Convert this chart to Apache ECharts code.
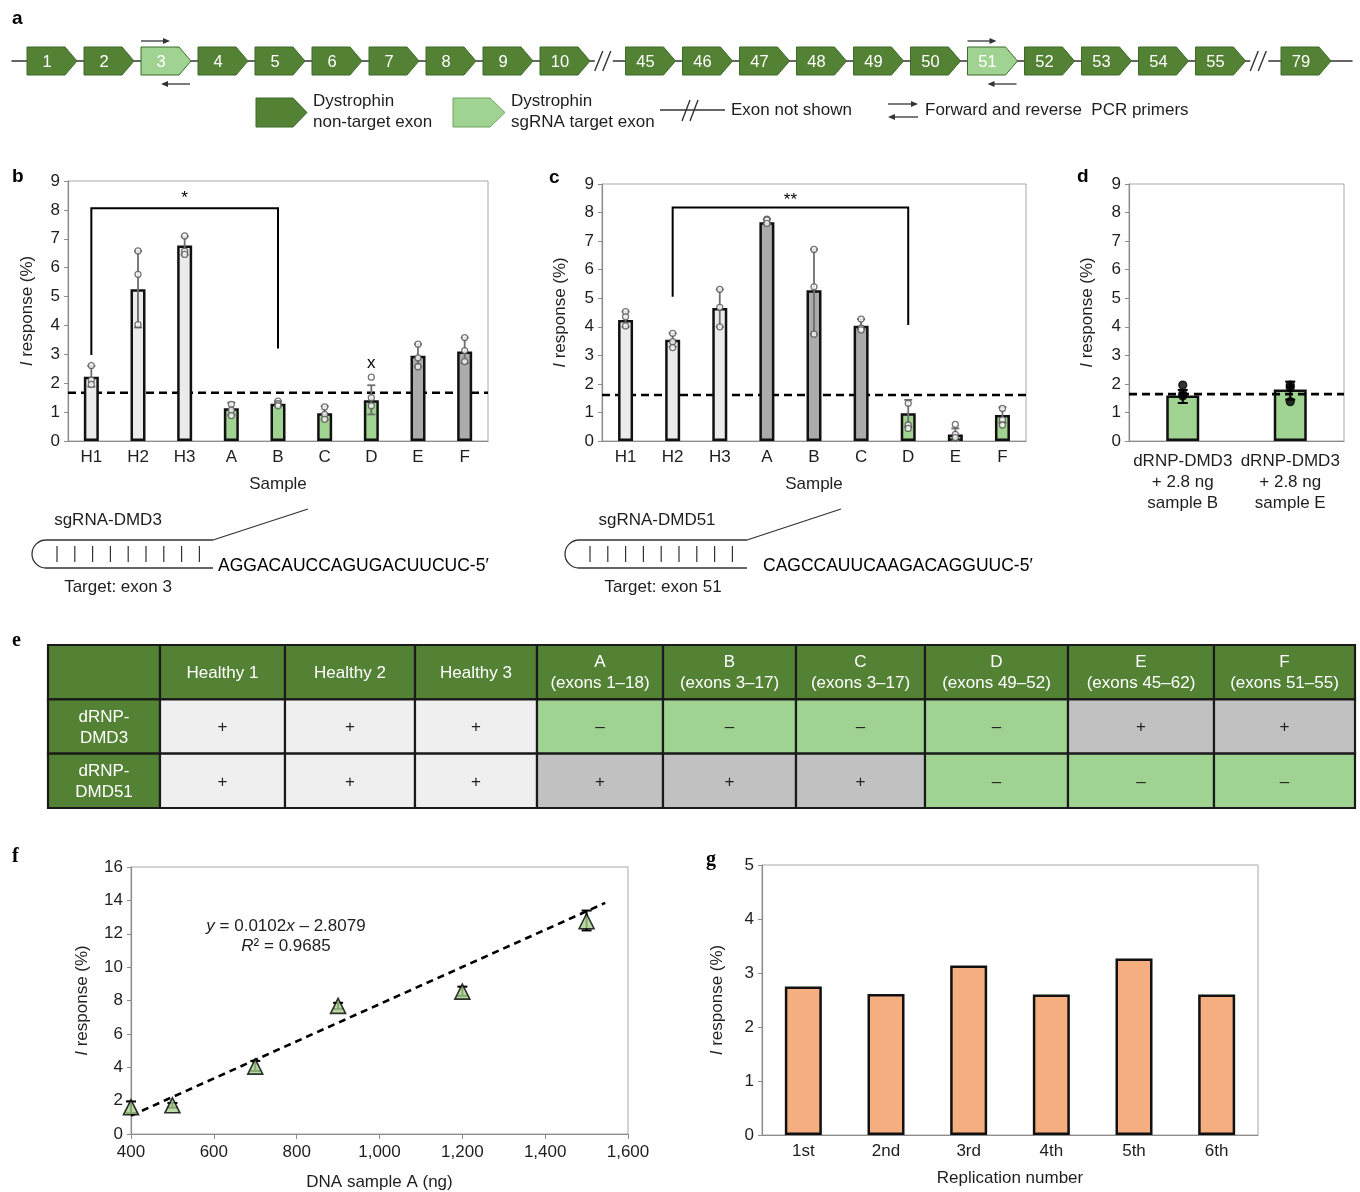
<!DOCTYPE html>
<html><head><meta charset="utf-8">
<script src="https://cdn.jsdelivr.net/npm/echarts@6/dist/echarts.min.js"></script>
<style>html,body{margin:0;padding:0;background:#fff}#chart{width:1360px;height:1192px}</style>
</head><body><div id="chart"></div>
<script>
// ================= DATA =================
// panel a
const exonLabels = ['1','2','3','4','5','6','7','8','9','10','45','46','47','48','49','50','51','52','53','54','55','79'];
const targetExons = ['3','51'];
const breakAfter = ['10','55'];

// panels b, c
const sampleCats = ['H1','H2','H3','A','B','C','D','E','F'];
const bGroups = ['healthy','healthy','healthy','neg','neg','neg','neg','pos','pos'];
const bMean = [2.22, 5.25, 6.77, 1.13, 1.29, 0.96, 1.41, 2.95, 3.10];
const bErrLow = [1.88, 3.93, 6.45, 0.90, 1.22, 0.74, 0.92, 2.57, 2.70];
const bErrHigh = [2.60, 6.57, 7.08, 1.33, 1.37, 1.20, 1.93, 3.35, 3.58];
const bPoints = [[2.61,2.11,1.96],[6.58,5.77,4.03],[7.10,6.57,6.46],[1.27,1.07,0.88],[1.38,1.29,1.22],[1.18,0.92,0.75],[2.21,1.50,1.22],[3.35,2.88,2.57],[3.58,3.13,2.75]];
const bThreshold = 1.67;
const bBracket = {from:'H1', fromLeg:2.98, to:'B', toLeg:3.20, top:8.06, starY:8.5, text:'*'};
const bOutlier = {cat:'D', y:2.68, text:'x'};

const cGroups = ['healthy','healthy','healthy','pos','pos','pos','neg','neg','neg'];
const cMean = [4.24, 3.55, 4.66, 7.66, 5.28, 4.04, 0.97, 0.23, 0.91];
const cErrLow = [4.00, 3.30, 4.00, 7.60, 3.74, 3.92, 0.50, 0.02, 0.64];
const cErrHigh = [4.53, 3.77, 5.31, 7.77, 6.71, 4.27, 1.44, 0.44, 1.18];
const cPoints = [[4.53,4.35,4.03],[3.77,3.48,3.27],[5.31,4.68,4.00],[7.77,7.74,7.62],[6.71,5.40,3.74],[4.27,3.95,3.89],[1.32,0.56,0.44],[0.58,0.23,0.12],[1.14,0.74,0.56]];
const cThreshold = 1.61;
const cBracket = {from:'H2', fromLeg:5.05, to:'D', toLeg:4.06, top:8.18, starY:8.55, text:'**'};

// panel d
const dCats = ['dRNP-DMD3\n+ 2.8 ng\nsample B', 'dRNP-DMD3\n+ 2.8 ng\nsample E'];
const dMean = [1.59, 1.80];
const dErrLow = [1.33, 1.45];
const dErrHigh = [1.79, 2.08];
const dPoints = [[1.96,1.65,1.58],[1.96,1.87,1.38]];
const dThreshold = 1.64;

// panel e
const tableHeaders = ['', 'Healthy 1', 'Healthy 2', 'Healthy 3', 'A\n(exons 1–18)', 'B\n(exons 3–17)', 'C\n(exons 3–17)', 'D\n(exons 49–52)', 'E\n(exons 45–62)', 'F\n(exons 51–55)'];
const rowHeaders = ['dRNP-\nDMD3', 'dRNP-\nDMD51'];
const dmd3Result = ['+','+','+','–','–','–','–','+','+'];
const dmd51Result = ['+','+','+','+','+','+','–','–','–'];

// panel f
const fX = [400, 500, 700, 900, 1200, 1500];
const fY = [1.60, 1.72, 4.04, 7.68, 8.53, 12.75];
const fErrLow = [1.25, 1.58, 3.78, 7.50, 8.28, 12.20];
const fErrHigh = [1.95, 1.86, 4.38, 7.86, 8.83, 13.39];
const trendX = [400, 1545];
const trendY = [1.10, 13.85];

// panel g
const replCats = ['1st','2nd','3rd','4th','5th','6th'];
const gVals = [2.75, 2.61, 3.14, 2.60, 3.27, 2.60];

// ================= STYLE / LAYOUT =================
const FONT = "'Liberation Sans', Arial, Helvetica, sans-serif";
const DARK = '#548235', LIGHT = '#a0d392';
const GROUP_COL = {healthy:'#ebebeb', neg:'#a0d392', pos:'#ababab'};
const TXT = '#1e1e1e';
const tableColWidths = [112,125,130,122,126,133,129,143,146,141];

// ---------- exon track items ----------
const exonItems = [];
(function(){
  let breaks = 0;
  exonLabels.forEach((l, i) => {
    const slot = i + 0.5 * breaks;
    exonItems.push({kind: targetExons.includes(l) ? 'target' : 'exon', label: l, slot});
    if (breakAfter.includes(l)) { exonItems.push({kind:'break', slot: slot + 0.75}); breaks++; }
  });
})();

function arrowEl(x1, x2, y, color) {
  const dir = x2 > x1 ? 1 : -1;
  return [
    {type:'line', shape:{x1, y1:y, x2:x2 - dir*5, y2:y}, style:{stroke:color, lineWidth:1.3}},
    {type:'polygon', shape:{points:[[x2,y],[x2-dir*7,y-3],[x2-dir*7,y+3]]}, style:{fill:color}}
  ];
}

const exonSeries = {
  type:'custom', xAxisIndex:0, yAxisIndex:0, z:5,
  data: exonItems.map(it => [it.slot, 0]),
  renderItem: (params, api) => {
    const it = exonItems[params.dataIndex];
    const p = api.coord([api.value(0), 0]);
    const cx = p[0], cy = p[1];
    if (it.kind === 'break') {
      return {type:'group', children:[
        {type:'rect', shape:{x:cx-9, y:cy-1, width:18, height:2}, style:{fill:'#fff'}},
        {type:'line', shape:{x1:cx-9, y1:cy+10, x2:cx-1, y2:cy-10}, style:{stroke:'#333', lineWidth:1.4}},
        {type:'line', shape:{x1:cx-1, y1:cy+10, x2:cx+7, y2:cy-10}, style:{stroke:'#333', lineWidth:1.4}}
      ]};
    }
    const fill = it.kind === 'target' ? LIGHT : DARK;
    const ch = [
      {type:'polygon', shape:{points:[[cx-21,cy-14],[cx+17,cy-14],[cx+29,cy],[cx+17,cy+14],[cx-21,cy+14]]},
       style:{fill, stroke:'#3c6a28', lineWidth:1}},
      {type:'text', style:{text:it.label, x:cx-1, y:cy+1, align:'center', verticalAlign:'middle',
        fill:'#fff', fontSize:16.5, fontFamily:FONT}}
    ];
    if (it.kind === 'target') {
      ch.push(...arrowEl(cx-21, cx+8, cy-20, '#333'));
      ch.push(...arrowEl(cx+28, cx-1, cy+23, '#333'));
    }
    return {type:'group', children:ch};
  }
};

// ---------- generic helpers ----------
function errSeries(ai, xs, lo, hi, color, lw, cap, z) {
  return {
    type:'custom', xAxisIndex:ai, yAxisIndex:ai, z,
    data: xs.map((x, i) => [x, lo[i], hi[i]]),
    encode:{x:0, y:[1,2]},
    renderItem: (params, api) => {
      const x = api.value(0);
      const a = api.coord([x, api.value(1)]);
      const b = api.coord([x, api.value(2)]);
      const st = {stroke:color, lineWidth:lw};
      return {type:'group', children:[
        {type:'line', shape:{x1:a[0], y1:a[1], x2:b[0], y2:b[1]}, style:st},
        {type:'line', shape:{x1:b[0]-cap, y1:b[1], x2:b[0]+cap, y2:b[1]}, style:st},
        {type:'line', shape:{x1:a[0]-cap, y1:a[1], x2:a[0]+cap, y2:a[1]}, style:st}
      ]};
    }
  };
}
function thresholdSeries(ai, thr, z) {
  return {
    type:'custom', xAxisIndex:ai, yAxisIndex:ai, z,
    data:[[0, thr]],
    renderItem: (params, api) => {
      const y = api.coord([0, api.value(1)])[1];
      const cs = params.coordSys;
      return {type:'line', shape:{x1:cs.x, y1:y, x2:cs.x+cs.width, y2:y},
        style:{stroke:'#000', lineWidth:2.6, lineDash:[8,5]}};
    }
  };
}
function bracketSeries(ai, cats, br) {
  const i1 = cats.indexOf(br.from), i2 = cats.indexOf(br.to);
  return {
    type:'custom', xAxisIndex:ai, yAxisIndex:ai, z:6,
    data:[[i1, br.fromLeg, i2, br.toLeg, br.top, br.starY]],
    renderItem: (params, api) => {
      const a = api.coord([api.value(0), api.value(1)]);
      const b = api.coord([api.value(0), api.value(4)]);
      const c = api.coord([api.value(2), api.value(4)]);
      const d = api.coord([api.value(2), api.value(3)]);
      const s = api.coord([api.value(0), api.value(5)]);
      return {type:'group', children:[
        {type:'polyline', shape:{points:[a,b,c,d]}, style:{stroke:'#000', lineWidth:2, fill:null}},
        {type:'text', style:{text:br.text, x:(b[0]+c[0])/2, y:s[1]+3, align:'center', verticalAlign:'middle',
          fontSize:17, fontFamily:FONT, fill:'#000'}}
      ]};
    }
  };
}
function barSeries(ai, means, groups, width) {
  return {
    type:'bar', xAxisIndex:ai, yAxisIndex:ai, z:2, barWidth:width,
    data: means.map((v, i) => ({value:v, itemStyle:{color: GROUP_COL[groups[i]]}})),
    itemStyle:{borderColor:'#111', borderWidth:2.5},
    emphasis:{disabled:true}
  };
}
function dotSeries(ai, pts, fill, border, size) {
  const data = [];
  pts.forEach((arr, i) => arr.forEach(v => data.push([i, v])));
  return {
    type:'scatter', xAxisIndex:ai, yAxisIndex:ai, z:7, symbol:'circle', symbolSize:size,
    data, itemStyle:{color:fill, borderColor:border, borderWidth:1.3}, emphasis:{disabled:true}
  };
}

const yName = '{i|I} response (%)';
const nameStyle = {fontSize:17, color:TXT, fontFamily:FONT,
  rich:{i:{fontStyle:'italic', fontSize:17, color:TXT, fontFamily:FONT}}};
function valueY(gi, max, interval, gap) {
  return {type:'value', gridIndex:gi, min:0, max, interval,
    axisLine:{show:true, lineStyle:{color:'#8c8c8c', width:1.2}},
    axisTick:{show:true, length:4, lineStyle:{color:'#8c8c8c'}},
    splitLine:{show:false},
    axisLabel:{fontSize:17, color:TXT, fontFamily:FONT, margin:8},
    name:yName, nameLocation:'middle', nameGap:gap, nameTextStyle:nameStyle};
}
function catX(gi, cats, name, gap, extra) {
  return Object.assign({type:'category', gridIndex:gi, data:cats,
    axisLine:{lineStyle:{color:'#8c8c8c', width:1.2}},
    axisTick:{show:false},
    axisLabel:{fontSize:17, color:TXT, fontFamily:FONT, margin:8, interval:0},
    name, nameLocation:'middle', nameGap:gap, nameTextStyle:{fontSize:17, color:TXT, fontFamily:FONT}}, extra || {});
}
const gridFrame = {show:true, borderColor:'#a8a8a8', borderWidth:1, containLabel:false};

// ---------- table cells ----------
const tableCells = [];
tableHeaders.forEach((h, c) => tableCells.push({col:c, row:0, text:h, kind:'hdr'}));
[dmd3Result, dmd51Result].forEach((res, r) => {
  tableCells.push({col:0, row:r+1, text:rowHeaders[r], kind:'hdr'});
  res.forEach((v, k) => {
    const healthy = tableHeaders[k+1].indexOf('Healthy') === 0;
    tableCells.push({col:k+1, row:r+1, text:v, kind: healthy ? 'healthy' : (v === '+' ? 'pos' : 'neg')});
  });
});
const colEdges = [0];
tableColWidths.forEach(w => colEdges.push(colEdges[colEdges.length-1] + w));
const CELL_FILL = {hdr:DARK, healthy:'#efefef', pos:'#c1c1c1', neg:LIGHT};
const tableSeries = {
  type:'custom', xAxisIndex:4, yAxisIndex:4, z:5,
  data: tableCells.map(c => [colEdges[c.col], c.row]),
  renderItem: (params, api) => {
    const cell = tableCells[params.dataIndex];
    const p0 = api.coord([colEdges[cell.col], cell.row]);
    const p1 = api.coord([colEdges[cell.col+1], cell.row]);
    const h = api.size([0, 1])[1];
    return {type:'group', children:[
      {type:'rect', shape:{x:p0[0], y:p0[1]-h/2, width:p1[0]-p0[0], height:h},
        style:{fill:CELL_FILL[cell.kind], stroke:'#1a1a1a', lineWidth:2.2}},
      {type:'text', style:{text:cell.text, x:(p0[0]+p1[0])/2, y:p0[1]+1, align:'center', verticalAlign:'middle',
        fontSize:17, lineHeight:21, fontFamily:FONT, fill: cell.kind === 'hdr' ? '#fff' : '#222'}}
    ]};
  }
};

// ---------- graphic (schematics, letters) ----------
const g = [];
function txt(text, x, y, opts) {
  g.push({type:'text', x, y, silent:true, style:Object.assign({text, fontSize:17, fontFamily:FONT, fill:TXT,
    align:'left', verticalAlign:'middle', lineHeight:21}, opts || {})});
}
function ln(x1, y1, x2, y2, w, col) {
  g.push({type:'line', silent:true, shape:{x1, y1, x2, y2}, style:{stroke:col || '#333', lineWidth:w || 1.3}});
}
// panel letters
[['a',12,19],['b',12,177],['c',549,178],['d',1077,177]].forEach(l =>
  txt(l[0], l[1], l[2], {fontSize:19, fontWeight:'bold', fill:'#000'}));
[['e',12,641],['f',12,857],['g',706,860]].forEach(l =>
  txt(l[0], l[1], l[2], {fontSize:20, fontWeight:'bold', fill:'#000', fontFamily:"'Liberation Serif', serif"}));
// panel a legend
g.push({type:'polygon', silent:true, shape:{points:[[256,98],[293,98],[307,112.5],[293,127],[256,127]]}, style:{fill:DARK, stroke:'#3c6a28'}});
txt('Dystrophin\nnon-target exon', 313, 112);
g.push({type:'polygon', silent:true, shape:{points:[[453,98],[490,98],[505,112.5],[490,127],[453,127]]}, style:{fill:LIGHT, stroke:'#6fa55f'}});
txt('Dystrophin\nsgRNA target exon', 511, 112);
ln(660, 110, 725, 110, 1.5);
ln(682, 121, 690, 100, 1.4); ln(690, 121, 698, 100, 1.4);
txt('Exon not shown', 731, 110);
ln(888, 104, 912, 104); g.push({type:'polygon', silent:true, shape:{points:[[918,104],[911,101],[911,107]]}, style:{fill:'#333'}});
ln(894, 117, 918, 117); g.push({type:'polygon', silent:true, shape:{points:[[888,117],[895,114],[895,120]]}, style:{fill:'#333'}});
txt('Forward and reverse  PCR primers', 925, 110);
// sgRNA diagrams
function hairpin(ox, endX, name, nameCx, target, targetCx, seq, seqX) {
  ln(46+ox, 540, endX, 540);
  ln(46+ox, 568, endX, 568);
  g.push({type:'arc', silent:true, shape:{cx:46+ox, cy:554, r:14, startAngle:Math.PI/2, endAngle:Math.PI*1.5, clockwise:true},
    style:{stroke:'#333', lineWidth:1.3, fill:null}});
  ln(endX, 540, 308+ox, 509);
  for (let k = 0; k < 9; k++) ln(57+ox+17.8*k, 546, 57+ox+17.8*k, 562, 1.2);
  txt(name, nameCx, 520, {align:'center'});
  txt(target, targetCx, 587, {align:'center'});
  txt(seq, seqX, 566, {fontSize:17.5, fill:'#000'});
}
hairpin(0, 213, 'sgRNA-DMD3', 108, 'Target: exon 3', 118, 'AGGACAUCCAGUGACUUCUC-5′', 218);
hairpin(533, 747, 'sgRNA-DMD51', 657, 'Target: exon 51', 663, 'CAGCCAUUCAAGACAGGUUC-5′', 763);
// panel f equation
txt('{i|y} = 0.0102{i|x} – 2.8079', 286, 926, {align:'center', rich:{i:{fontStyle:'italic', fontSize:17, fontFamily:FONT, fill:TXT}}});
txt('{i|R}² = 0.9685', 286, 946, {align:'center', rich:{i:{fontStyle:'italic', fontSize:17, fontFamily:FONT, fill:TXT}}});

// ================= OPTION =================
const option = {
  animation:false,
  backgroundColor:'#fff',
  textStyle:{fontFamily:FONT},
  grid:[
    {left:12, top:47, width:1340, height:28, show:false},          // a
    Object.assign({left:68, top:181, width:420, height:260}, gridFrame),   // b
    Object.assign({left:602, top:184, width:424, height:257}, gridFrame),  // c
    Object.assign({left:1129, top:184, width:215, height:257}, gridFrame), // d
    {left:48, top:645, width:1307, height:163, show:false},         // e
    Object.assign({left:131, top:867, width:497, height:268}, gridFrame),  // f
    Object.assign({left:762, top:865, width:496, height:270}, gridFrame)   // g
  ],
  xAxis:[
    {type:'value', gridIndex:0, min:-36/57, max:22 + 50/57, axisLine:{show:true, onZero:true, lineStyle:{color:'#333', width:1.5}},
      axisTick:{show:false}, axisLabel:{show:false}, splitLine:{show:false}},
    catX(1, sampleCats, 'Sample', 35),
    catX(2, sampleCats, 'Sample', 35),
    catX(3, dCats, '', 10, {axisLabel:{fontSize:17, color:TXT, fontFamily:FONT, margin:10, lineHeight:21, interval:0}}),
    {type:'value', gridIndex:4, min:0, max:colEdges[colEdges.length-1], show:false},
    {type:'value', gridIndex:5, min:400, max:1600, interval:200,
      axisLine:{onZero:false, lineStyle:{color:'#8c8c8c', width:1.2}},
      axisTick:{show:true, length:5, lineStyle:{color:'#8c8c8c'}},
      splitLine:{show:false},
      axisLabel:{fontSize:17, color:TXT, fontFamily:FONT, margin:10, formatter: v => v.toLocaleString('en-US')},
      name:'DNA sample A (ng)', nameLocation:'middle', nameGap:40, nameTextStyle:{fontSize:17, color:TXT, fontFamily:FONT}},
    catX(6, replCats, 'Replication number', 35)
  ],
  yAxis:[
    {type:'value', gridIndex:0, min:-1, max:1, show:false},
    valueY(1, 9, 1, 32),
    valueY(2, 9, 1, 33),
    valueY(3, 9, 1, 33),
    {type:'category', gridIndex:4, data:['0','1','2'], inverse:true, show:false},
    valueY(5, 16, 2, 40),
    valueY(6, 5, 1, 36)
  ],
  series:[
    exonSeries,
    // b
    thresholdSeries(1, bThreshold, 1),
    barSeries(1, bMean, bGroups, 15),
    errSeries(1, sampleCats.map((c,i)=>i), bErrLow, bErrHigh, '#6e6e6e', 1.8, 4, 5),
    dotSeries(1, bPoints, '#fff', '#555', 6),
    bracketSeries(1, sampleCats, bBracket),
    {type:'custom', xAxisIndex:1, yAxisIndex:1, z:6, data:[[sampleCats.indexOf(bOutlier.cat), bOutlier.y]],
      renderItem:(params, api) => {
        const p = api.coord([api.value(0), api.value(1)]);
        return {type:'text', style:{text:bOutlier.text, x:p[0], y:p[1], align:'center', verticalAlign:'middle',
          fontSize:17, fontFamily:FONT, fill:'#000'}};
      }},
    // c
    thresholdSeries(2, cThreshold, 1),
    barSeries(2, cMean, cGroups, 15),
    errSeries(2, sampleCats.map((c,i)=>i), cErrLow, cErrHigh, '#6e6e6e', 1.8, 4, 5),
    dotSeries(2, cPoints, '#fff', '#555', 6),
    bracketSeries(2, sampleCats, cBracket),
    // d
    barSeries(3, dMean, ['neg','neg'], 33),
    thresholdSeries(3, dThreshold, 4),
    errSeries(3, [0,1], dErrLow, dErrHigh, '#000', 2, 5, 5),
    dotSeries(3, dPoints, '#000', '#000', 8),
    // e
    tableSeries,
    // f
    {type:'line', xAxisIndex:5, yAxisIndex:5, z:2, symbol:'none', data: trendX.map((x,i)=>[x, trendY[i]]),
      lineStyle:{color:'#000', width:2.6, type:[7,5]}},
    errSeries(5, fX, fErrLow, fErrHigh, '#000', 2, 5, 3),
    {type:'scatter', xAxisIndex:5, yAxisIndex:5, z:4, symbol:'triangle', symbolSize:15,
      data: fX.map((x,i)=>[x, fY[i]]), itemStyle:{color:'#a9d18e', borderColor:'#000', borderWidth:1.6}},
    // g
    {type:'bar', xAxisIndex:6, yAxisIndex:6, z:2, barWidth:37, data:gVals,
      itemStyle:{color:'#f4ae80', borderColor:'#111', borderWidth:2.5}}
  ],
  graphic:{elements:g}
};
const chart = echarts.init(document.getElementById('chart'), null, {renderer:'canvas', width:1360, height:1192});
chart.setOption(option);
</script>
</body></html>
